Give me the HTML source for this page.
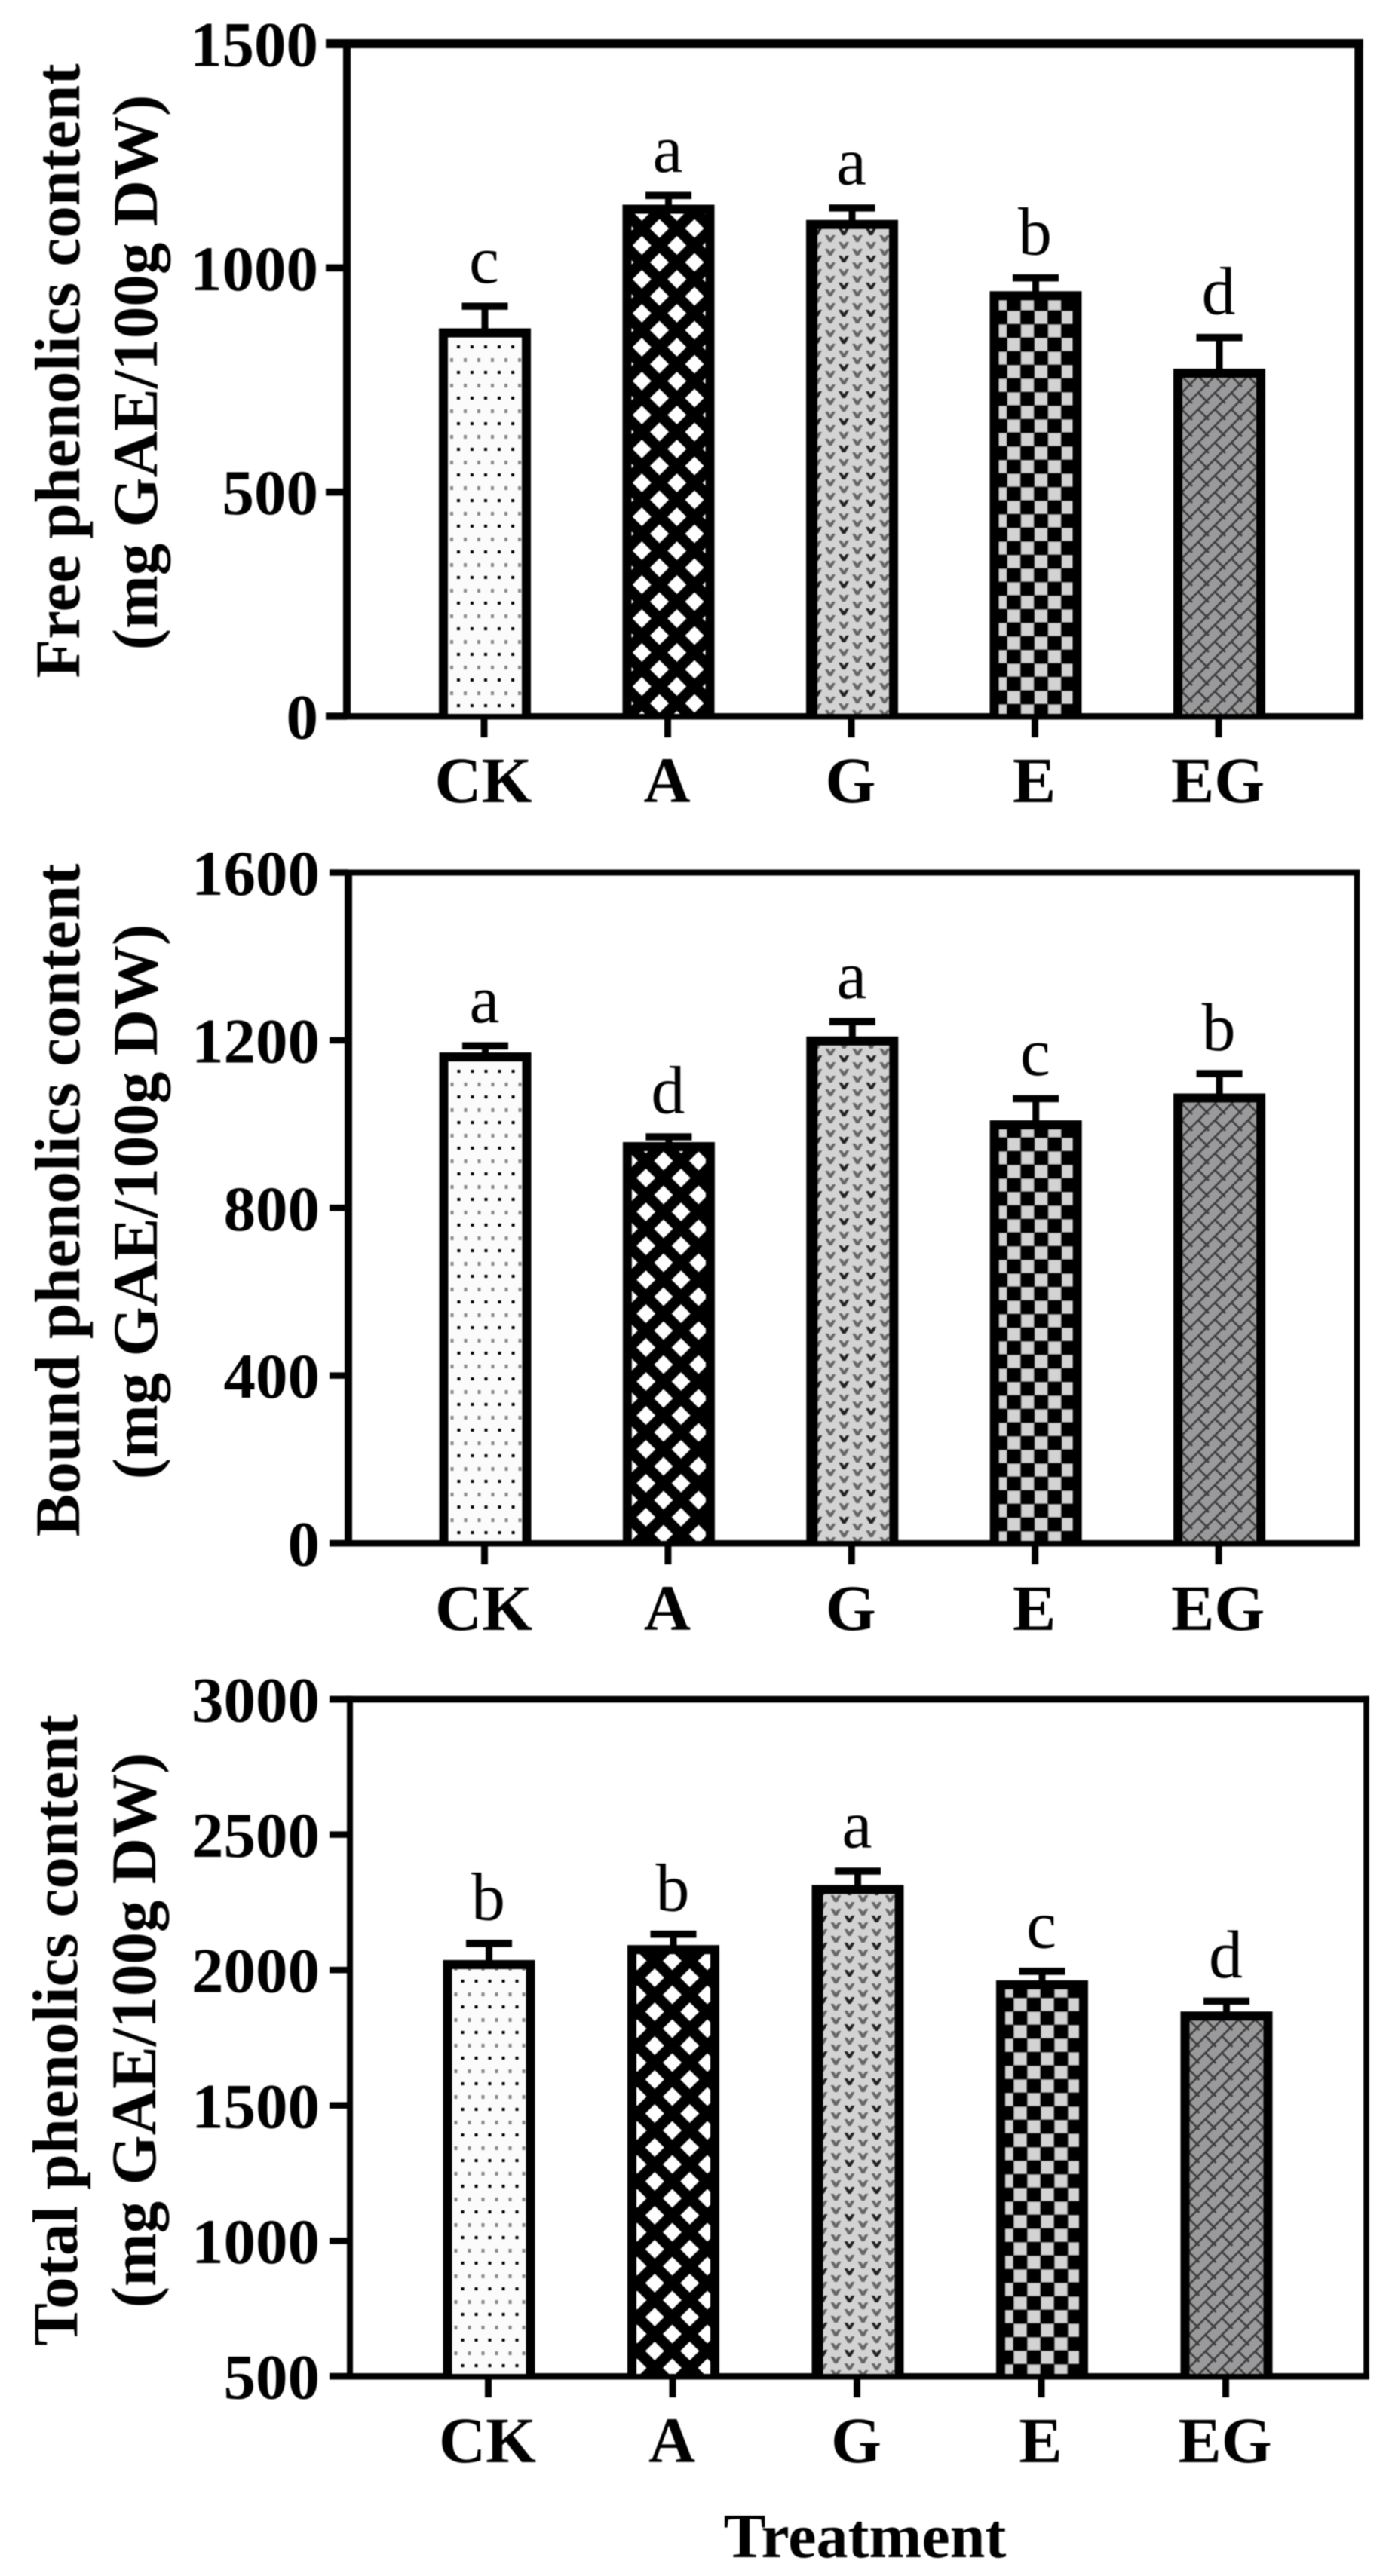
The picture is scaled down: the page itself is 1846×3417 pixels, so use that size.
<!DOCTYPE html>
<html lang="en">
<head>
<meta charset="utf-8">
<title>Phenolics content by treatment</title>
<style>
html,body{margin:0;padding:0;background:#fff;}
#figure{display:block;width:1846px;height:3417px;filter:blur(0.9px);}
text{font-family:"Liberation Serif",serif;fill:#000;}
.bold{font-weight:bold;}
</style>
</head>
<body>
<svg id="figure" xmlns="http://www.w3.org/2000/svg" width="1846" height="3417" viewBox="0 0 1846 3417">
<defs>
<pattern id="fill-CK" patternUnits="userSpaceOnUse" width="18" height="34">
  <rect width="18" height="34" fill="#fbfbfb"/>
  <rect x="6" y="18" width="4" height="4" fill="#000"/>
  <rect x="15" y="1" width="4" height="5" fill="#888"/>
  <rect x="-3" y="1" width="4" height="5" fill="#888"/>
</pattern>
<pattern id="fill-A" patternUnits="userSpaceOnUse" width="46.5" height="45">
  <rect width="46.5" height="45" fill="#000"/>
  <g fill="#fff">
    <polygon points="2.5,15.5 15,28 2.5,40.5 -10,28"/>
    <polygon points="49,15.5 61.5,28 49,40.5 36.5,28"/>
    <polygon points="25.75,-7 38.25,5.5 25.75,18 13.25,5.5"/>
    <polygon points="25.75,38 38.25,50.5 25.75,63 13.25,50.5"/>
  </g>
</pattern>
<pattern id="fill-G" patternUnits="userSpaceOnUse" width="36" height="36">
  <rect width="36" height="36" fill="#d3d3d3"/>
  <g fill="#666">
    <polygon transform="translate(14 5)" points="-7,-4 -3,-4 0,0 3,-4 7,-4 2,5 -2,5" fill="#222"/>
    <polygon transform="translate(14 23)" points="-7,-4 -3,-4 0,0 3,-4 7,-4 2,5 -2,5"/>
    <polygon transform="translate(32 14)" points="-7,-4 -3,-4 0,0 3,-4 7,-4 2,5 -2,5"/>
    <polygon transform="translate(32 32)" points="-7,-4 -3,-4 0,0 3,-4 7,-4 2,5 -2,5"/>
    <polygon transform="translate(-4 14)" points="-7,-4 -3,-4 0,0 3,-4 7,-4 2,5 -2,5"/>
    <polygon transform="translate(-4 32)" points="-7,-4 -3,-4 0,0 3,-4 7,-4 2,5 -2,5"/>
    <polygon transform="translate(32 -4)" points="-7,-4 -3,-4 0,0 3,-4 7,-4 2,5 -2,5"/>
  </g>
</pattern>
<pattern id="fill-E" patternUnits="userSpaceOnUse" width="36" height="36">
  <rect width="36" height="36" fill="#000"/>
  <rect x="5" y="20" width="18" height="16" fill="#8a8a8a"/>
  <rect x="5" y="0" width="18" height="2" fill="#8a8a8a"/>
  <rect x="23" y="2" width="18" height="18" fill="#8a8a8a"/>
  <rect x="-13" y="2" width="18" height="18" fill="#8a8a8a"/>
  <rect x="6" y="21" width="16" height="15" fill="#d3d3d3"/>
  <rect x="6" y="0" width="16" height="1" fill="#d3d3d3"/>
  <rect x="24" y="3" width="16" height="16" fill="#d3d3d3"/>
  <rect x="-12" y="3" width="16" height="16" fill="#d3d3d3"/>
</pattern>
<pattern id="fill-EG" patternUnits="userSpaceOnUse" width="22" height="22">
  <rect width="22" height="22" fill="#9a9a9c"/>
  <g stroke="#3c3c3c" stroke-width="2.6" fill="none">
    <line x1="-1" y1="23" x2="23" y2="-1"/>
    <line x1="-2" y1="2" x2="2" y2="-2"/>
    <line x1="20" y1="24" x2="24" y2="20"/>
    <line x1="11" y1="11" x2="22" y2="22"/>
    <line x1="0" y1="0" x2="3" y2="3"/>
  </g>
</pattern>
</defs>
</svg>
<script>
// Shared category and tick data
const categories = ["CK", "A", "G", "E", "EG"];

const freeValues = [865, 1141, 1107, 948, 775];
const freeErrors = [50, 21, 27, 30, 70];
const freeLetters = ["c", "a", "a", "b", "d"];
const freeTicks = [0, 500, 1000, 1500];

const boundValues = [1171, 957, 1209, 1009, 1073];
const boundErrors = [16, 13, 36, 52, 48];
const boundLetters = ["a", "d", "a", "c", "b"];
const boundTicks = [0, 400, 800, 1200, 1600];

const totalValues = [2037, 2092, 2314, 1962, 1847];
const totalErrors = [62, 41, 52, 34, 39];
const totalLetters = ["b", "b", "a", "c", "d"];
const totalTicks = [500, 1000, 1500, 2000, 2500, 3000];

const svg = document.getElementById('figure');
const NS = 'http://www.w3.org/2000/svg';

function add(parent, tag, attrs, content) {
  const node = document.createElementNS(NS, tag);
  for (const k in attrs) node.setAttribute(k, attrs[k]);
  if (content !== undefined) node.textContent = content;
  parent.appendChild(node);
  return node;
}

function drawPanel(cfg) {
  const yScale = v => cfg.bottom - (v - cfg.min) * (cfg.bottom - cfg.top) / (cfg.max - cfg.min);
  const xScale = i => cfg.x0 + i * cfg.step;

  const panel = add(svg, 'g', {});
  
  

  // Frame
  const topLine = add(panel, 'rect', {x: cfg.tickStart, y: cfg.top - cfg.topW / 2, width: cfg.right - cfg.tickStart + cfg.rightW / 2, height: cfg.topW, fill: '#000'});
  
  
  const rightLine = add(panel, 'rect', {x: cfg.right - cfg.rightW / 2, y: cfg.top - cfg.topW / 2, width: cfg.rightW, height: cfg.bottom - cfg.top + cfg.topW / 2 + 4, fill: '#000'});
  
  
  const leftLine = add(panel, 'rect', {x: cfg.left - cfg.leftW / 2, y: cfg.top - cfg.topW / 2, width: cfg.leftW, height: cfg.bottom - cfg.top + cfg.topW / 2 + 4, fill: '#000'});
  
  
  const bottomLine = add(panel, 'rect', {x: cfg.tickStart, y: cfg.bottom - 4, width: cfg.right - cfg.tickStart + cfg.rightW / 2, height: 8.5, fill: '#000'});
  
  

  // Y ticks and labels
  cfg.ticks.forEach(t => {
    const mark = add(panel, 'rect', {x: cfg.tickStart, y: yScale(t) - cfg.tickW / 2, width: cfg.left - cfg.tickStart, height: cfg.tickW, fill: '#000'});
    
    
    const label = add(panel, 'text', {x: cfg.tickLabelRight, y: yScale(t) + 29.5, 'text-anchor': 'end', 'font-size': 85, class: 'bold'}, String(t));
    
    
  });

  // Bars
  categories.forEach((cat, i) => {
    const cx = xScale(i);
    const barLeft = cx - 61;
    const barTop = yScale(cfg.values[i]);
    const errTop = yScale(cfg.values[i] + cfg.errors[i]);

    const tick = add(panel, 'rect', {x: cx - 1 - 4.5, y: cfg.bottom, width: 9, height: 28, fill: '#000'});
    
    

    const stem = add(panel, 'rect', {x: cx - 4.5, y: errTop, width: 9, height: barTop - errTop + 2, fill: '#000'});
    
    

    const cap = add(panel, 'rect', {x: cx - 30.5, y: errTop - 4.5, width: 61, height: 9.5, fill: '#000'});
    
    

    const bar = add(panel, 'rect', {x: barLeft, y: barTop, width: 122, height: cfg.bottom - barTop + 3, fill: '#000'});
    
    

    const insetL = cat === 'G' ? 15 : 12;
    const shiftX = cat === 'A' ? cfg.diamondShiftX : 0;
    const shiftY = cat === 'A' ? cfg.diamondShiftY : 0;
    const hatchGroup = add(panel, 'g', {transform: 'translate(' + (barLeft + shiftX) + ' ' + (cfg.bottom + shiftY) + ')'});
    
    
    const hatch = add(hatchGroup, 'rect', {x: insetL - shiftX, y: barTop - cfg.bottom + 12 - shiftY, width: 122 - insetL - 12, height: cfg.bottom - barTop - 15, fill: 'url(#fill-' + cat + ')'});
    
    

    const letter = add(panel, 'text', {x: cx - 1, y: errTop - 31, 'text-anchor': 'middle', 'font-size': 90}, cfg.letters[i]);
    
    

    const catLabel = add(panel, 'text', {x: cx - 2, y: cfg.catBaseline, 'text-anchor': 'middle', 'font-size': 86, class: 'bold'}, cat);
    
    
  });

  // Y-axis title (two rotated lines)
  const title1 = add(panel, 'text', {x: cfg.title1X, y: cfg.title1Y, transform: 'rotate(-90 ' + cfg.title1X + ' ' + cfg.title1Y + ')', 'text-anchor': 'middle', 'font-size': 85, class: 'bold'}, cfg.title);
  
  
  const title2 = add(panel, 'text', {x: cfg.title2X, y: cfg.title2Y, transform: 'rotate(-90 ' + cfg.title2X + ' ' + cfg.title2Y + ')', 'text-anchor': 'middle', 'font-size': 85, class: 'bold'}, '(mg GAE/100g DW)');
  
  
}

drawPanel({
  key: 'free', values: freeValues, errors: freeErrors, letters: freeLetters, ticks: freeTicks,
  title: 'Free phenolics content', min: 0, max: 1500,
  top: 58, bottom: 950, left: 460, right: 1802, topW: 12, rightW: 11.5, leftW: 10, tickW: 9.5,
  tickStart: 432, tickLabelRight: 422, x0: 643, step: 243.5, catBaseline: 1064,
  title1X: 105, title1Y: 492, title2X: 208, title2Y: 494,
  diamondShiftX: 0, diamondShiftY: 0
});

drawPanel({
  key: 'bound', values: boundValues, errors: boundErrors, letters: boundLetters, ticks: boundTicks,
  title: 'Bound phenolics content', min: 0, max: 1600,
  top: 1157.5, bottom: 2047, left: 462, right: 1799.5, topW: 8, rightW: 7.5, leftW: 10, tickW: 8.5,
  tickStart: 437, tickLabelRight: 424, x0: 643.5, step: 243.4, catBaseline: 2162,
  title1X: 105, title1Y: 1592, title2X: 208, title2Y: 1594,
  diamondShiftX: 5, diamondShiftY: 5
});

drawPanel({
  key: 'total', values: totalValues, errors: totalErrors, letters: totalLetters, ticks: totalTicks,
  title: 'Total phenolics content', min: 500, max: 3000,
  top: 2254, bottom: 3152, left: 464, right: 1812, topW: 8.5, rightW: 7.5, leftW: 8, tickW: 8.5,
  tickStart: 437, tickLabelRight: 424, x0: 648.5, step: 244.5, catBaseline: 3266,
  title1X: 102, title1Y: 2693, title2X: 206, title2Y: 2693,
  diamondShiftX: 10.5, diamondShiftY: 6
});

const xTitle = add(svg, 'text', {x: 1147, y: 3392, 'text-anchor': 'middle', 'font-size': 84, class: 'bold'}, 'Treatment');


</script>
</body>
</html>
